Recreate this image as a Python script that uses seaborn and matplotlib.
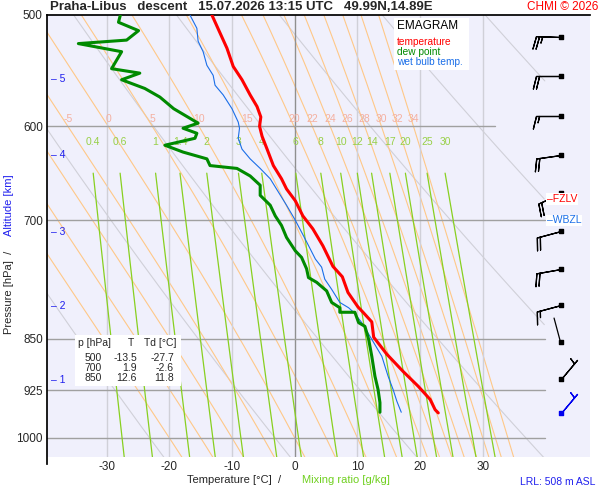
import numpy as np
import pandas as pd
import matplotlib
matplotlib.use("Agg")
import matplotlib.pyplot as plt
import seaborn as sns

# ---------------- data ----------------
t_p = [500, 515, 528, 544, 556, 570, 581, 591, 600, 610, 623, 640, 654, 665, 678, 695, 710,
       730, 755, 768, 788, 807, 814, 827, 848, 872, 897, 919, 939, 955, 960]
t_val = [-13.2, -11.9, -10.8, -9.8, -8.4, -7.1, -6.0, -5.4, -5.6, -5.2, -4.4, -3.4, -2.1, -1.3,
         0.1, 1.3, 2.9, 4.5, 6.1, 7.6, 8.5, 10.1, 10.9, 12.3, 12.6, 14.7, 17.3, 19.7, 21.6, 22.4, 22.9]

td_p = [500, 506, 513, 521, 524, 531, 546, 550, 556, 564, 572, 583, 597, 602, 607, 612, 619,
        626, 633, 640, 643, 651, 661, 672, 683, 695, 706, 720, 736, 744, 758, 769, 775, 786,
        801, 808, 814, 814, 828, 833, 851, 875, 904, 924, 944, 959]
td_val = [-27.8, -28.1, -24.9, -26.8, -34.5, -27.6, -29.2, -24.7, -27.6, -23.9, -21.5, -19.3,
          -15.4, -17.8, -15.6, -15.9, -20.7, -17.8, -14.0, -13.5, -9.2, -7.1, -5.5, -5.5, -3.9,
          -3.1, -2.1, -1.3, 0.1, 1.1, 1.9, 2.2, 3.5, 5.1, 5.9, 7.2, 7.2, 9.6, 10.2, 11.2, 11.8,
          12.3, 12.8, 13.3, 13.6, 13.6]

tw_p = [500, 511, 522, 531, 543, 552, 561, 570, 583, 596, 602, 612, 623, 633, 643, 654, 665,
        683, 700, 718, 734, 746, 756, 771, 784, 801, 808, 814, 828, 851, 875, 904, 924, 942, 959]
tw_val = [-16.7, -15.6, -15.4, -14.6, -14.0, -13.0, -12.7, -11.4, -10.0, -9.0, -8.8, -9.0, -8.4,
          -7.1, -5.5, -3.9, -2.9, -1.3, 0.1, 1.4, 2.5, 3.3, 4.3, 4.8, 5.9, 7.2, 8.6, 9.4, 10.7,
          12.3, 13.9, 14.9, 15.7, 16.3, 17.0]

wind_p = [518, 553, 590, 629, 669, 712, 758, 805, 855, 908, 960]
wind_dir = [272, 270, 270, 262, 245, 255, 260, 255, 345, 40, 40]
wind_kt = [25, 20, 15, 20, 20, 20, 20, 15, 2, 5, 5]

alt_km = [5, 4, 3, 2, 1]
alt_p = [555, 629, 714, 806, 909]

p_ticks = [500, 600, 700, 850, 925, 1000]
t_ticks = [-30, -20, -10, 0, 10, 20, 30]
dry_theta = list(range(230, 461, 20))
moist_thw = [-20, -15, -10, -5, 0, 5, 10, 15, 20, 22, 24, 26, 28, 30, 32, 34]
mix_w = [0.4, 0.6, 1, 1.4, 2, 3, 4, 6, 8, 10, 12, 14, 17, 20, 25, 30]
mix_labels = ["0.4", "0.6", "1", "1.4", "2", "3", "4", "6", "8", "10", "12", "14", "17", "20", "25", "30"]

table_rows = [("500", "-13.5", "-27.7"), ("700", "1.9", "-2.6"), ("850", "12.6", "11.8")]

# ---------------- style ----------------
sns.set_theme(style="white")
plt.rcParams['font.family'] = ['Liberation Sans', 'DejaVu Sans']

fig = plt.figure(figsize=(6, 5), dpi=100)
fig.patch.set_facecolor("white")
ax = fig.add_axes([47/600, 1-457/500, 543/600, 442/500])
ax.set_facecolor("#f0f0fc")
TMIN, TMAX = -39.5, 47.1
PTOP, PBOT = 500, 1032
ax.set_yscale("log")
ax.set_ylim(PBOT, PTOP)
ax.set_xlim(TMIN, TMAX)
TCLIP = 40.0

pp = np.geomspace(PTOP, 1060, 300)

def clipline(T, P, **kw):
    T = np.asarray(T, float); P = np.asarray(P, float)
    m = T <= TCLIP
    ax.plot(np.where(m, T, np.nan), P, **kw)

# dry adiabats
for th in dry_theta:
    T = th * (pp / 1000.0) ** 0.2857 - 273.15
    clipline(T, pp, color="#d0d0d8", lw=0.8, zorder=1)

# moist adiabats
def es(Tc):
    return 6.112 * np.exp(17.67 * Tc / (Tc + 243.5))

def dTdp(p, Tk):
    Rd, cp, Lv, eps = 287.0, 1005.0, 2.5e6, 0.622
    rs = eps * es(Tk - 273.15) / (p - es(Tk - 273.15))
    return (Rd * Tk + Lv * rs) / (p * (cp + Lv * Lv * rs * eps / (Rd * Tk * Tk)))

def moist(thw):
    res = {}
    for direction in (-1, 1):
        Tk = thw + 273.15; p = 1000.0
        ps, Ts = [p], [Tk]
        target = PTOP - 5 if direction < 0 else 1060
        while (p > target) if direction < 0 else (p < target):
            dp = direction * 1.0
            k1 = dTdp(p, Tk)
            k2 = dTdp(p + dp/2, Tk + k1*dp/2)
            Tk = Tk + k2 * dp
            p = p + dp
            ps.append(p); Ts.append(Tk)
        res[direction] = (np.array(ps), np.array(Ts) - 273.15)
    P = np.concatenate([res[-1][0][::-1], res[1][0][1:]])
    T = np.concatenate([res[-1][1][::-1], res[1][1][1:]])
    return P, T

for thw in moist_thw:
    P, T = moist(thw)
    clipline(T, P, color="#ffc888", lw=0.8, zorder=2)
    i = np.argmin(np.abs(P - 600))
    if thw >= -5:
        ax.text(T[i], 593, str(thw), color="#f4b0a0", fontsize=7.5,
                ha="center", va="center", zorder=6)

# mixing ratio lines
pm = np.geomspace(648, 1060, 100)
for w, lab in zip(mix_w, mix_labels):
    e = (w / 1000.0) * pm / (0.622 + w / 1000.0)
    x = np.log(e / 6.112)
    T = 243.5 * x / (17.67 - x)
    clipline(T, pm, color="#88d020", lw=0.9, zorder=3)
    ax.text(T[0], 616, lab, color="#98d048", fontsize=7.5, ha="center", va="center", zorder=6)

# grid lines
for t in t_ticks:
    ax.axvline(t, color="#909090" if t == 0 else "#d0d0d8", lw=1.0, zorder=2.5)
for p in p_ticks[1:]:
    xend = 32 if p == 600 else TCLIP
    ax.plot([TMIN, xend], [p, p], color="#a0a0a0", lw=1.0, zorder=2.5)

# soundings
df_t = pd.DataFrame({"T": t_val, "p": t_p})
df_td = pd.DataFrame({"T": td_val, "p": td_p})
df_tw = pd.DataFrame({"T": tw_val, "p": tw_p})
sns.lineplot(data=df_tw, x="T", y="p", sort=False, estimator=None, color="#1a6ee8", lw=0.8, ax=ax, zorder=7)
sns.lineplot(data=df_td, x="T", y="p", sort=False, estimator=None, color="#008a00", lw=2.2, ax=ax, zorder=8)
sns.lineplot(data=df_t, x="T", y="p", sort=False, estimator=None, color="#ff0000", lw=2.2, ax=ax, zorder=9)

# wind barbs
wd = np.deg2rad(np.array(wind_dir))
ws = np.array(wind_kt, float)
u = -ws * np.sin(wd); v = -ws * np.cos(wd)
xb = np.full(len(wind_p), 42.4)
cols = ["black"] * (len(wind_p) - 1) + ["#0000ee"]
bk = dict(length=6.0, lw=0.9, sizes=dict(emptybarb=0.0, height=0.5), flip_barb=True, zorder=10)
for i in range(len(wind_p)):
    if ws[i] >= 5:
        ax.barbs(xb[i:i+1], wind_p[i:i+1], u[i:i+1], v[i:i+1], color=cols[i], **bk)
    else:
        d = wd[i]
        ax.annotate("", xy=(xb[i], wind_p[i]), xycoords="data",
                    xytext=(18 * np.sin(d), 18 * np.cos(d)), textcoords="offset points",
                    arrowprops=dict(arrowstyle="-", color=cols[i], lw=0.9,
                                    shrinkA=0, shrinkB=0), zorder=10)
    ax.scatter(xb[i], wind_p[i], s=8, marker="s", color=cols[i], zorder=11)

# axes styling
ax.set_yticks(p_ticks)
ax.set_yticklabels([str(p) for p in p_ticks], fontsize=8.5)
ax.yaxis.set_minor_locator(matplotlib.ticker.NullLocator())
ax.set_xticks(t_ticks)
ax.set_xticklabels([str(t) for t in t_ticks], fontsize=8.5)
ax.tick_params(length=0, pad=3)
ax.set_xlabel(""); ax.set_ylabel("")
for s in ["right", "bottom"]:
    ax.spines[s].set_visible(False)
ax.spines["left"].set_color("black"); ax.spines["top"].set_color("black")
ax.spines["left"].set_bounds(PBOT * 1.012, PTOP)

# altitude labels
for km, p in zip(alt_km, alt_p):
    ax.text(TMIN + 0.6, p, "– " + str(km), color="#2020ee", fontsize=7.5, va="center", ha="left", zorder=12)

# freezing levels
ax.text(TCLIP + 0.2, 676, "–FZLV", color="red", fontsize=7.5, va="center", ha="left",
        bbox=dict(facecolor="white", edgecolor="none", pad=0.5), zorder=12)
ax.text(TCLIP + 0.2, 700, "–WBZL", color="#1a6ee8", fontsize=7.5, va="center", ha="left",
        bbox=dict(facecolor="white", edgecolor="none", pad=0.5), zorder=12)

def fx(px): return px / 600.0
def fy(py): return 1 - py / 500.0

# legend box
fig.patches.append(plt.Rectangle((fx(394), fy(70)), 75/600, 52/500, transform=fig.transFigure,
                                 facecolor="white", edgecolor="none", zorder=20))
fig.text(fx(397), fy(26), "EMAGRAM", fontsize=8.5, color="black", va="center", zorder=21)
fig.text(fx(397), fy(42), "temperature", fontsize=7.3, color="red", va="center", zorder=21)
fig.text(fx(397), fy(52), "dew point", fontsize=7.3, color="#008a00", va="center", zorder=21)
fig.text(fx(397), fy(62), "wet bulb temp.", fontsize=7.3, color="#1a6ee8", va="center", zorder=21)

# table box
fig.patches.append(plt.Rectangle((fx(75), fy(386)), 106/600, 51/500, transform=fig.transFigure,
                                 facecolor="white", edgecolor="none", zorder=20))
fig.text(fx(78), fy(343), "p [hPa]", fontsize=7.5, va="center", zorder=21)
fig.text(fx(131), fy(343), "T", fontsize=7.5, va="center", ha="center", zorder=21)
fig.text(fx(176), fy(343), "Td [°C]", fontsize=7.5, va="center", ha="right", zorder=21)
for i, (a, b, c) in enumerate(table_rows):
    y = fy(358 + 10 * i)
    fig.text(fx(102), y, a, fontsize=7.5, va="center", ha="right", zorder=21)
    fig.text(fx(137), y, b, fontsize=7.5, va="center", ha="right", zorder=21)
    fig.text(fx(174), y, c, fontsize=7.5, va="center", ha="right", zorder=21)

# titles and labels
fig.text(fx(50), fy(7), "Praha-Libus   descent   15.07.2026 13:15 UTC   49.99N,14.89E",
         fontsize=9.5, fontweight="bold", va="center", ha="left")
fig.text(fx(598), fy(7), "CHMI © 2026", fontsize=8.5, color="red", va="center", ha="right")
fig.text(fx(287), fy(480), "Temperature [°C]  /  ", fontsize=8, va="center", ha="right")
fig.text(fx(302), fy(480), "Mixing ratio [g/kg]", fontsize=8, color="#70d020", va="center", ha="left")
fig.text(fx(520), fy(482), "LRL: 508 m ASL", fontsize=7.5, color="#2020ee", va="center", ha="left")
fig.text(fx(9), fy(292), "Pressure [hPa]  /", fontsize=8, rotation=90, va="center", ha="center")
fig.text(fx(9), fy(205), "Altitude [km]", fontsize=8, rotation=90, va="center", ha="center", color="#2020ee")

fig.savefig("out.png", dpi=100)
